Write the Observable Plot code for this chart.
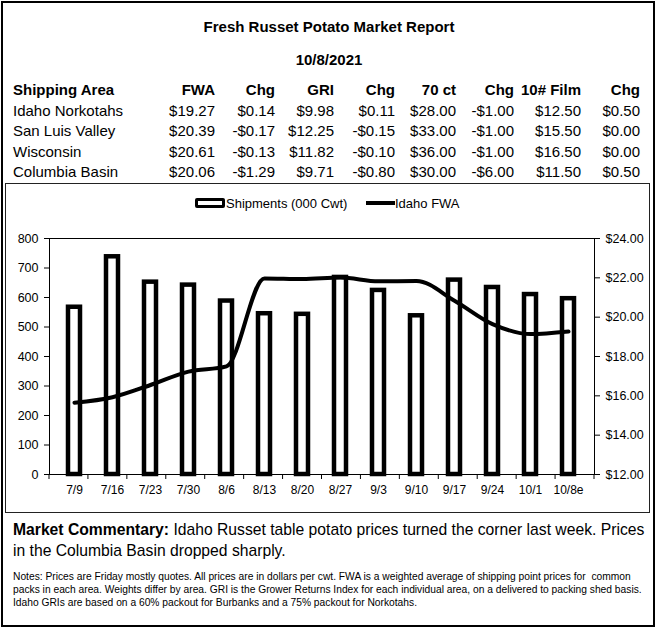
<!DOCTYPE html>
<html><head><meta charset="utf-8">
<script src="https://cdn.jsdelivr.net/npm/d3@7"></script>
<script src="https://cdn.jsdelivr.net/npm/@observablehq/plot@0.6"></script>
<style>
html,body{margin:0;padding:0;background:#fff;}
body{font-family:"Liberation Sans",Arial,sans-serif;color:#000;}
#page{position:relative;width:658px;height:629px;overflow:hidden;background:#fff;}
#outer{position:absolute;left:1px;top:1px;width:654px;height:626px;border:2px solid #000;box-sizing:border-box;}
#chartbox{position:absolute;left:5px;top:183px;width:645px;height:330px;border:1px solid #222;box-sizing:border-box;}
.t{position:absolute;white-space:nowrap;line-height:1;}
.title{left:0;width:658px;text-align:center;font-weight:bold;font-size:15px;}
.cell{font-size:15px;}
.hdr{font-weight:bold;}
#chart{position:absolute;left:6px;top:220px;}
.leg{font-size:13px;}
#comment{position:absolute;left:13px;top:520px;font-size:15.7px;line-height:20.5px;white-space:nowrap;}
#notes{position:absolute;left:13px;top:570px;font-size:10.25px;line-height:13px;white-space:nowrap;}
</style>
</head><body>
<div id="page">
  <div id="outer"></div>
  <div id="chartbox"></div>
  <div class="t title" style="top:19px">Fresh Russet Potato Market Report</div>
  <div class="t title" style="top:52px">10/8/2021</div>
  <div id="table"></div>
  <div id="legend"></div>
  <div id="chart"></div>
  <div id="comment"><b>Market Commentary:</b> Idaho Russet table potato prices turned the corner last week. Prices<br>in the Columbia Basin dropped sharply.</div>
  <div id="notes">Notes: Prices are Friday mostly quotes. All prices are in dollars per cwt. FWA is a weighted average of shipping point prices for &nbsp;common<br>packs in each area. Weights differ by area. GRI is the Grower Returns Index for each individual area, on a delivered to packing shed basis.<br>Idaho GRIs are based on a 60% packout for Burbanks and a 75% packout for Norkotahs.</div>
</div>
<script>
// ---- Table data ----
const tableHeaders = ["Shipping Area", "FWA", "Chg", "GRI", "Chg", "70 ct", "Chg", "10# Film", "Chg"];
const areas = ["Idaho Norkotahs", "San Luis Valley", "Wisconsin", "Columbia Basin"];
const fwaPrice = ["$19.27", "$20.39", "$20.61", "$20.06"];
const fwaChg = ["$0.14", "-$0.17", "-$0.13", "-$1.29"];
const griPrice = ["$9.98", "$12.25", "$11.82", "$9.71"];
const griChg = ["$0.11", "-$0.15", "-$0.10", "-$0.80"];
const ct70Price = ["$28.00", "$33.00", "$36.00", "$30.00"];
const ct70Chg = ["-$1.00", "-$1.00", "-$1.00", "-$6.00"];
const filmPrice = ["$12.50", "$15.50", "$16.50", "$11.50"];
const filmChg = ["$0.50", "$0.00", "$0.00", "$0.50"];

// ---- Chart data ----
const weeks = ["7/9", "7/16", "7/23", "7/30", "8/6", "8/13", "8/20", "8/27", "9/3", "9/10", "9/17", "9/24", "10/1", "10/8e"];
const shipments = [567, 738, 652, 642, 588, 545, 543, 668, 624, 538, 659, 634, 610, 596];
const idahoFWA = [15.65, 15.93, 16.55, 17.23, 17.50, 21.97, 21.94, 22.02, 21.82, 21.84, 20.84, 19.65, 19.14, 19.27];
const leftTicks = [0, 100, 200, 300, 400, 500, 600, 700, 800];
const rightTicks = [12, 14, 16, 18, 20, 22, 24];
const legendLabels = ["Shipments (000 Cwt)", "Idaho FWA"];

// ---- Build table ----
const tbl = document.getElementById("table");
const colRight = [null, 215, 275, 334, 395, 456, 514, 581, 640];
const rowTop = [82, 102.5, 123, 143.5, 164];
function addCell(text, row, col, bold) {
  const d = document.createElement("div");
  d.className = "t cell" + (bold ? " hdr" : "");
  d.textContent = text;
  d.style.top = rowTop[row] + "px";
  if (col === 0) d.style.left = "13px";
  else d.style.right = (658 - colRight[col]) + "px";
  tbl.appendChild(d);
}
tableHeaders.forEach((h, c) => addCell(h, 0, c, true));
const cols = [areas, fwaPrice, fwaChg, griPrice, griChg, ct70Price, ct70Chg, filmPrice, filmChg];
areas.forEach((a, r) => cols.forEach((arr, c) => addCell(arr[r], r + 1, c, false)));

// ---- Legend ----
const leg = document.getElementById("legend");
leg.innerHTML =
  `<div style="position:absolute;left:195px;top:198px;width:30px;height:10px;border:3.5px solid #000;border-radius:2px;box-sizing:border-box;background:#fff"></div>` +
  `<div class="t leg" style="left:226px;top:197px">${legendLabels[0]}</div>` +
  `<div style="position:absolute;left:366px;top:201px;width:29px;height:4px;background:#000"></div>` +
  `<div class="t leg" style="left:395px;top:197px">${legendLabels[1]}</div>`;

// ---- Chart ----
const data = weeks.map((w, i) => ({week: w, ship: shipments[i], fwa: idahoFWA[i]}));
const toLeft = v => (v - 12) * 800 / 12; // map $ scale onto shipments scale
function categoryTicks(index, scales, values, dim) {
  const g = d3.create("svg:g").attr("stroke", "#000").attr("stroke-width", 1);
  const n = weeks.length;
  const x0 = dim.marginLeft, x1 = dim.width - dim.marginRight, yb = dim.height - dim.marginBottom;
  for (let k = 0; k <= n; k++) {
    const x = x0 + (x1 - x0) * k / n;
    g.append("line").attr("x1", x).attr("x2", x).attr("y1", yb).attr("y2", yb + 5);
  }
  return g.node();
}
const chart = Plot.plot({
  width: 642, height: 290,
  marginLeft: 43, marginRight: 54, marginTop: 18, marginBottom: 36,
  style: {fontFamily: "'Liberation Sans', Arial, sans-serif", fontSize: "12px", color: "#000", background: "transparent", overflow: "visible"},
  x: {domain: weeks, paddingInner: 0.68, paddingOuter: 0.34, label: null},
  y: {domain: [0, 800], label: null},
  marks: [
    Plot.frame({stroke: "#000", strokeWidth: 1}),
    Plot.axisY({ticks: leftTicks, tickSize: 5, tickPadding: 6, label: null, fontSize: 12.5}),
    Plot.axisY(rightTicks.map(toLeft), {anchor: "right", tickSize: 5, tickPadding: 6, label: null, fontSize: 12.5,
      tickFormat: v => "$" + (12 + v * 12 / 800).toFixed(2)}),
    Plot.axisX({tickSize: 0, tickPadding: 11, label: null, fontSize: 12}),
    categoryTicks,
    Plot.barY(data, {x: "week", y: "ship", fill: "white", stroke: "black", strokeWidth: 4.5}),
    Plot.line(data, {x: "week", y: d => toLeft(d.fwa), stroke: "black", strokeWidth: 4, curve: "monotone-x"})
  ]
});
document.getElementById("chart").appendChild(chart);
</script>
</body></html>
